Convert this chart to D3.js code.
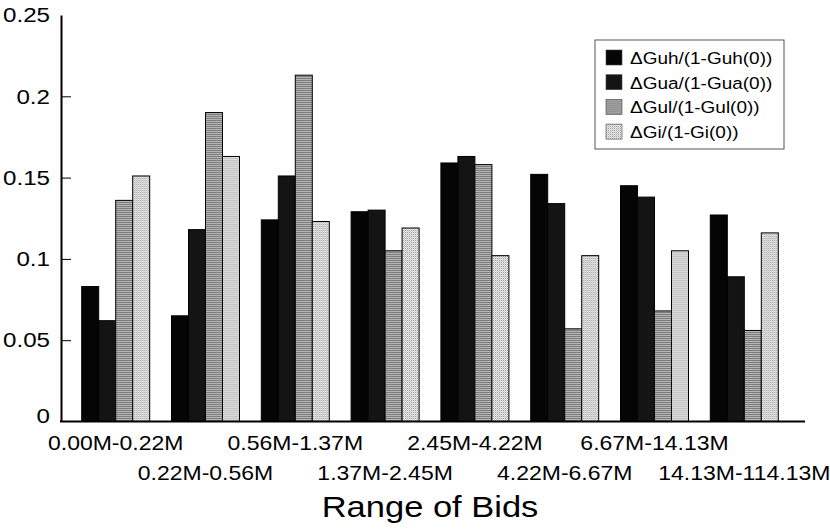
<!DOCTYPE html>
<html>
<head>
<meta charset="utf-8">
<script src="https://cdn.jsdelivr.net/npm/d3@7"></script>
<style>
  html, body { margin: 0; padding: 0; background: #fff; }
  svg { display: block; font-family: "Liberation Sans", Arial, Helvetica, sans-serif; }
</style>
</head>
<body>
<svg id="chart" width="830" height="531"></svg>
<script>
// Bid ranges along the x axis
const categories = ["0.00M-0.22M", "0.22M-0.56M", "0.56M-1.37M", "1.37M-2.45M",
                    "2.45M-4.22M", "4.22M-6.67M", "6.67M-14.13M", "14.13M-114.13M"];

// Relative gains per bid range
const guh = [0.083, 0.065, 0.124, 0.129, 0.159, 0.152, 0.145, 0.127];
const gua = [0.062, 0.118, 0.151, 0.130, 0.163, 0.134, 0.138, 0.089];
const gul = [0.136, 0.190, 0.213, 0.105, 0.158, 0.057, 0.068, 0.056];
const gi  = [0.151, 0.163, 0.123, 0.119, 0.102, 0.102, 0.105, 0.116];

const seriesNames = ["ΔGuh/(1-Guh(0))", "ΔGua/(1-Gua(0))", "ΔGul/(1-Gul(0))", "ΔGi/(1-Gi(0))"];
const seriesValues = [guh, gua, gul, gi];

const yTicks = [0, 0.05, 0.1, 0.15, 0.2, 0.25];
const yTickLabels = ["0", "0.05", "0.1", "0.15", "0.2", "0.25"];
const xTitle = "Range of Bids";

const svg = d3.select("#chart");
const SX = 1.15; // horizontal stretch of the lettering

// Fill textures
const defs = svg.append("defs");
const p3 = defs.append("pattern").attr("id", "fillGul")
  .attr("width", 2).attr("height", 2).attr("patternUnits", "userSpaceOnUse");
p3.append("rect").attr("width", 2).attr("height", 2).attr("fill", "#b4b4b4");
p3.append("rect").attr("width", 2).attr("height", 1).attr("fill", "#7e7e7e");
const p4 = defs.append("pattern").attr("id", "fillGi")
  .attr("width", 2).attr("height", 2).attr("patternUnits", "userSpaceOnUse");
p4.append("rect").attr("width", 2).attr("height", 2).attr("fill", "#eeeeee");
p4.append("rect").attr("x", 0).attr("y", 0).attr("width", 1).attr("height", 1).attr("fill", "#9a9a9a");
p4.append("rect").attr("x", 1).attr("y", 1).attr("width", 1).attr("height", 1).attr("fill", "#c8c8c8");

const fills = ["#050505", "#141414", "url(#fillGul)", "url(#fillGi)"];

// Scales
const y = d3.scaleLinear().domain([0, 0.25]).range([421.5, 15]);
const x0 = d3.scaleBand().domain(categories).range([81.7, 778.3]).paddingInner(0.2428).paddingOuter(0);
const x1 = d3.scaleBand().domain(d3.range(seriesNames.length)).range([0, x0.bandwidth()]).padding(0);

// Bars
const groups = svg.append("g").selectAll("g")
  .data(categories)
  .join("g")
  .attr("transform", d => `translate(${x0(d)},0)`);

groups.selectAll("rect")
  .data((d, i) => seriesValues.map((vals, s) => ({ s, v: vals[i] })))
  .join("rect")
  .attr("x", d => x1(d.s))
  .attr("y", d => y(d.v))
  .attr("width", x1.bandwidth())
  .attr("height", d => y(0) - y(d.v))
  .attr("fill", d => fills[d.s])
  .attr("stroke", "#000")
  .attr("stroke-width", 1);

// Y axis
const yAxis = d3.axisLeft(y)
  .tickValues(yTicks)
  .tickFormat((d, i) => yTickLabels[i])
  .tickSizeInner(-10)
  .tickSizeOuter(0)
  .tickPadding(11);

const yg = svg.append("g").attr("transform", "translate(61,0)").call(yAxis);
yg.select(".domain").attr("stroke", "#000").attr("stroke-width", 2);
yg.selectAll(".tick line").attr("stroke", "#000").attr("stroke-width", 1)
  .filter(d => d === 0 || d === 0.25).remove();
yg.selectAll(".tick text")
  .attr("fill", "#000")
  .style("font-size", "21px")
  .attr("x", null)
  .attr("transform", `translate(-11,0) scale(${SX},1)`);
yg.selectAll(".tick").filter(d => d === 0).select("text").attr("dy", "0.05em");

// X axis baseline
svg.append("line")
  .attr("x1", 60).attr("x2", 805)
  .attr("y1", y(0)).attr("y2", y(0))
  .attr("stroke", "#000").attr("stroke-width", 2);

// Category labels, alternating between two rows
svg.append("g").selectAll("text")
  .data(categories)
  .join("text")
  .attr("text-anchor", "middle")
  .attr("transform", (d, i) => `translate(${x0(d) + x0.bandwidth() / 2},${i % 2 === 0 ? 450 : 480}) scale(${SX},1)`)
  .style("font-size", "20px")
  .attr("fill", "#000")
  .text(d => d);

// Axis title
svg.append("text")
  .attr("text-anchor", "middle")
  .attr("transform", `translate(430,517) scale(${SX},1)`)
  .style("font-size", "30px")
  .attr("fill", "#000")
  .text(xTitle);

// Legend
const legend = svg.append("g");
legend.append("rect")
  .attr("x", 595).attr("y", 40).attr("width", 189).attr("height", 109)
  .attr("fill", "#fff").attr("stroke", "#555").attr("stroke-width", 1);
const items = legend.selectAll("g.item")
  .data(seriesNames)
  .join("g")
  .attr("class", "item")
  .attr("transform", (d, i) => `translate(0,${50 + i * 24.7})`);
items.append("rect")
  .attr("x", 606).attr("y", 0).attr("width", 16).attr("height", 15)
  .attr("fill", (d, i) => fills[i])
  .attr("stroke", "#444").attr("stroke-width", 0.6);
items.append("text")
  .attr("transform", `translate(630,14) scale(${SX},1)`)
  .style("font-size", "16.5px")
  .attr("fill", "#000")
  .text(d => d);
</script>
</body>
</html>
